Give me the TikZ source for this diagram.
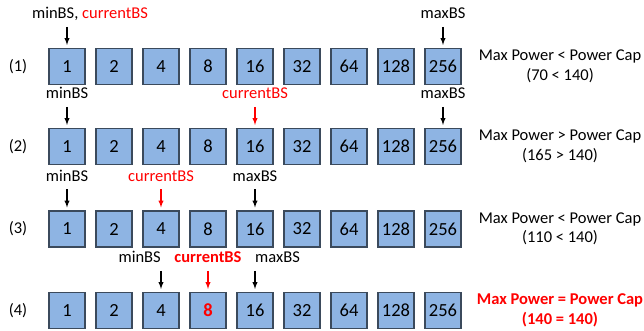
\documentclass[tikz,border=0pt]{standalone}
\usepackage{fontspec}
\setmainfont{Carlito}
\usetikzlibrary{positioning}
\definecolor{bsfill}{HTML}{8EB4E3}
\definecolor{bsline}{HTML}{3B4A5C}
\newcommand\bsfont{\fontsize{16.5}{19.5}\selectfont}
\newcommand\numfont{\fontsize{18.5}{20}\selectfont}
\begin{document}
\begin{tikzpicture}[x=1pt, y=1pt, font=\bsfont,
    bs/.style={draw=bsline, fill=bsfill, line width=1.2pt, minimum size=36pt, inner sep=0pt, font=\numfont},
    hl4-4/.style={text=red, font=\numfont\bfseries},
    ptrlbl/.style={inner xsep=0pt, inner ysep=8pt, text depth=0pt},
    ptr/.style={line width=1.3pt, -latex, shorten >=3pt},
    cond/.style={align=center}]
    \useasboundingbox (0,0) rectangle (644,330);
    \foreach \r/\y in {1/263.5, 2/183.5, 3/101, 4/19.5} {
        \node (row\r) at (18,\y) {(\r)};
        \foreach \v [count=\i] in {1,2,4,8,16,32,64,128,256}
            \node[bs, hl\r-\i/.try] (b\r-\i) at (20+47*\i,\y) {\v};
    }
    % (1)
    \node[ptrlbl, above=21pt of b1-1, xshift=23pt] (min1) {minBS, \textcolor{red}{currentBS}};
    \node[ptrlbl, above=21pt of b1-9] (max1) {maxBS};
    \draw[ptr] (b1-1.north |- min1.south) -- (b1-1.north);
    \draw[ptr] (max1.south) -- (b1-9.north);
    \node[cond] (cap1) at (560,263.5) {Max Power < Power Cap\\(70 < 140)};
    % (2)
    \node[ptrlbl, above=21pt of b2-1] (min2) {minBS};
    \node[ptrlbl, above=21pt of b2-5, text=red] (cur2) {currentBS};
    \node[ptrlbl, above=21pt of b2-9] (max2) {maxBS};
    \draw[ptr] (min2.south) -- (b2-1.north);
    \draw[ptr, red] (cur2.south) -- (b2-5.north);
    \draw[ptr] (max2.south) -- (b2-9.north);
    \node[cond] (cap2) at (560,183.5) {Max Power > Power Cap\\(165 > 140)};
    % (3)
    \node[ptrlbl, above=21pt of b3-1] (min3) {minBS};
    \node[ptrlbl, above=21pt of b3-3, text=red] (cur3) {currentBS};
    \node[ptrlbl, above=21pt of b3-5] (max3) {maxBS};
    \draw[ptr] (min3.south) -- (b3-1.north);
    \draw[ptr, red] (cur3.south) -- (b3-3.north);
    \draw[ptr] (max3.south) -- (b3-5.north);
    \node[cond] (cap3) at (560,101) {Max Power < Power Cap\\(110 < 140)};
    % (4)
    \node[ptrlbl, above=21pt of b4-3, anchor=south east] (min4) {minBS};
    \node[ptrlbl, above=21pt of b4-4, text=red, font=\bsfont\bfseries] (cur4) {currentBS};
    \node[ptrlbl, above=21pt of b4-5, anchor=south west] (max4) {maxBS};
    \draw[ptr] (b4-3.north |- min4.south) -- (b4-3.north);
    \draw[ptr, red] (cur4.south) -- (b4-4.north);
    \draw[ptr] (b4-5.north |- max4.south) -- (b4-5.north);
    \node[cond, text=red, font=\bsfont\bfseries] (cap4) at (560,19.5) {Max Power = Power Cap\\(140 = 140)};
\end{tikzpicture}
\end{document}
